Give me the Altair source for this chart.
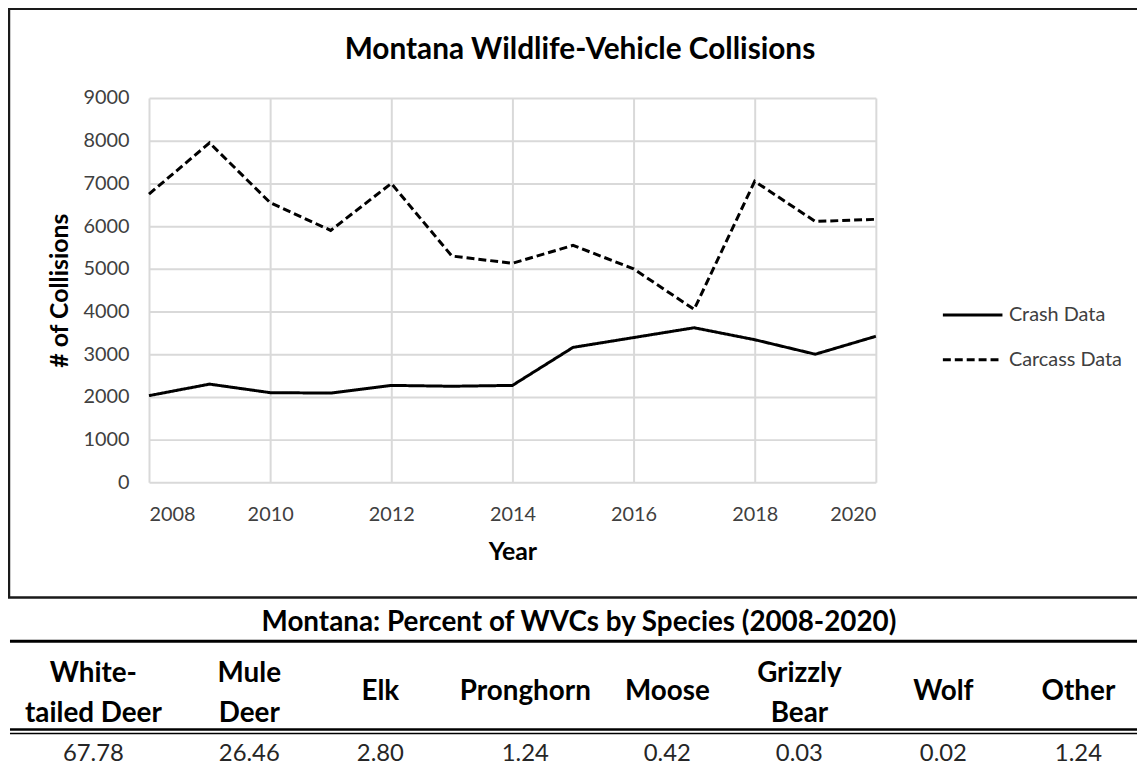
import altair as alt
import pandas as pd

# ---------------- data ----------------
years = list(range(2008, 2021))
crash = [2030, 2300, 2100, 2090, 2270, 2250, 2270, 3160, 3390, 3620, 3340, 3000, 3420]
carcass = [6750, 7950, 6550, 5900, 7000, 5300, 5130, 5550, 5000, 4050, 7050, 6110, 6160]
series_names = ["Crash Data", "Carcass Data"]

species = ["White-\ntailed Deer", "Mule\nDeer", "Elk", "Pronghorn", "Moose",
           "Grizzly\nBear", "Wolf", "Other"]
percents = [67.78, 26.46, 2.80, 1.24, 0.42, 0.03, 0.02, 1.24]

chart_title = "Montana Wildlife-Vehicle Collisions"
table_title = "Montana: Percent of WVCs by Species (2008-2020)"
x_ticks = [2008, 2010, 2012, 2014, 2016, 2018, 2020]
y_ticks = [0, 1000, 2000, 3000, 4000, 5000, 6000, 7000, 8000, 9000]

# ---------------- layout (styles) ----------------
FONT = "Lato"
PLOT_W, PLOT_H = 732, 387
col_centers = [-56, 101, 233, 379, 522, 655, 800, 936]  # table column centres (px, view coords)

lines_df = pd.DataFrame({
    "Year": years * 2,
    "Collisions": crash + carcass,
    "Series": [series_names[0]] * len(years) + [series_names[1]] * len(years),
})
table_df = pd.DataFrame({"idx": list(range(len(species))), "species": species, "pct": percents})
one = alt.Data(values=[{}])

lines = alt.Chart(lines_df).mark_line(strokeWidth=3, color="black").encode(
    x=alt.X("Year:Q",
            scale=alt.Scale(domain=[2008, 2020], nice=False, zero=False),
            axis=alt.Axis(values=x_ticks, format="d", title="Year",
                          labelFontSize=20, labelColor="#404040", labelPadding=32,
                          labelBaseline="middle", ticks=False, domain=False,
                          grid=True, gridColor="#d9d9d9", gridWidth=2,
                          titleFontSize=25, titleFontWeight="bold", titleColor="black",
                          titleX=PLOT_W / 2, titleY=70, titleBaseline="middle")),
    y=alt.Y("Collisions:Q",
            scale=alt.Scale(domain=[0, 9000], nice=False),
            axis=alt.Axis(values=y_ticks, format="d", title="# of Collisions",
                          labelFontSize=20, labelColor="#404040", labelPadding=20,
                          ticks=False, domain=False,
                          grid=True, gridColor="#d9d9d9", gridWidth=2,
                          titleFontSize=25, titleFontWeight="bold", titleColor="black",
                          titleX=-90, titleY=PLOT_H / 2, titleAngle=-90,
                          titleBaseline="middle", titleAlign="center")),
    strokeDash=alt.StrokeDash(
        "Series:N",
        scale=alt.Scale(domain=series_names, range=[[1, 0], [8, 4]]),
        legend=alt.Legend(orient="none", legendX=798, legendY=187, title=None,
                          symbolType="stroke", symbolSize=3600, symbolStrokeWidth=3,
                          symbolStrokeColor="black", labelFontSize=20, labelColor="#404040",
                          labelOffset=5, rowPadding=3, padding=0)),
)

box = alt.Chart(one).mark_rect(fillOpacity=0, stroke="#1a1a1a", strokeWidth=2.5).encode(
    x=alt.value(-141), x2=alt.value(1010), y=alt.value(-90), y2=alt.value(503))

title_mark = alt.Chart(one).mark_text(
    text=chart_title, font=FONT, fontSize=30, fontWeight="bold", color="black",
    align="center", baseline="middle").encode(x=alt.value(434), y=alt.value(-48))

table_title_mark = alt.Chart(one).mark_text(
    text=table_title, font=FONT, fontSize=28, fontWeight="bold", color="black",
    align="center", baseline="middle").encode(x=alt.value(433), y=alt.value(529))

rule_top = alt.Chart(one).mark_rule(strokeWidth=3, color="black").encode(
    x=alt.value(-140), x2=alt.value(1000), y=alt.value(547))
rule_mid1 = alt.Chart(one).mark_rule(strokeWidth=2.5, color="black").encode(
    x=alt.value(-140), x2=alt.value(1000), y=alt.value(636))
rule_mid2 = alt.Chart(one).mark_rule(strokeWidth=1.5, color="black").encode(
    x=alt.value(-140), x2=alt.value(1000), y=alt.value(640))

tab_x = alt.X("idx:Q", scale=alt.Scale(domain=list(range(len(species))), range=col_centers),
              axis=None)

header_style = dict(font=FONT, fontSize=28, fontWeight="bold", color="black",
                    lineBreak="\n", lineHeight=40, align="center", baseline="middle")

header_single = alt.Chart(table_df).transform_filter(
    "indexof(datum.species, '\\n') < 0").mark_text(**header_style).encode(
    x=tab_x, y=alt.value(598), text="species:N")

header_double = alt.Chart(table_df).transform_filter(
    "indexof(datum.species, '\\n') >= 0").mark_text(**header_style).encode(
    x=tab_x, y=alt.value(580), text="species:N")

values = alt.Chart(table_df).mark_text(
    font=FONT, fontSize=24, color="#262626", align="center", baseline="middle").encode(
    x=tab_x, y=alt.value(661), text=alt.Text("pct:Q", format=".2f"))

chart = alt.layer(
    box, lines, title_mark, table_title_mark, rule_top, rule_mid1, rule_mid2,
    header_single, header_double, values
).resolve_scale(x="independent").properties(
    width=PLOT_W, height=PLOT_H,
    autosize=alt.AutoSizeParams(type="none"),
    padding={"left": 142, "top": 88, "right": 263, "bottom": 282},
).configure(font=FONT).configure_view(stroke=None)

chart.save("out.html", embed_options={"renderer": "svg", "actions": False})
